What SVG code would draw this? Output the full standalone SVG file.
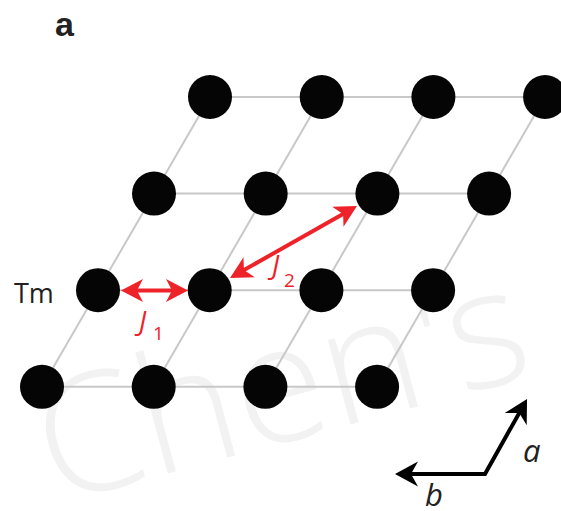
<svg xmlns="http://www.w3.org/2000/svg" width="561" height="511" viewBox="0 0 561 511">
  <style>
    .grid line { stroke: #c8c8c8; stroke-width: 2; }
    .atom { fill: #050505; }
    .red { stroke: #ee2229; stroke-width: 4; fill: none; }
    .axis { stroke: #000; stroke-width: 4; fill: none; stroke-linejoin: miter; }
    .lbl { font-family: "Open Sans", "Liberation Sans", sans-serif; }
    .jlbl { font-family: "Open Sans", "Liberation Sans", sans-serif; font-style: italic; fill: #ee2229; }
    .jsub { font-family: "Open Sans", "Liberation Sans", sans-serif; fill: #ee2229; }
    .ax { font-family: "Open Sans", "Liberation Sans", sans-serif; font-style: italic; fill: #222; font-size: 31px; }
  </style>
  <defs>
    <marker id="redHead" markerUnits="userSpaceOnUse" markerWidth="24" markerHeight="24" viewBox="0 0 24 24" refX="8" refY="12" orient="auto-start-reverse">
      <path d="M22,12 L0,0.5 L6,12 L0,23.5 Z" fill="#ee2229"/>
    </marker>
    <marker id="blackHead" markerUnits="userSpaceOnUse" markerWidth="26" markerHeight="26" viewBox="0 0 26 26" refX="9" refY="13" orient="auto-start-reverse">
      <path d="M23,13 L0,0.5 L7,13 L0,25.5 Z" fill="#000"/>
    </marker>
  </defs>
  <rect width="561" height="511" fill="#fff"/>

  <!-- watermark -->
  <text x="54" y="504" transform="rotate(-15 54 504)" font-family="'Open Sans', 'Liberation Sans', sans-serif" font-weight="300" font-size="165" textLength="500" lengthAdjust="spacingAndGlyphs" fill="#f2f2f2">Chen's</text>

  <text x="55" y="36" font-family="'Liberation Sans', Arial, sans-serif" font-weight="bold" font-size="34" fill="#222">a</text>

  <g id="connectors" class="grid">
    <line x1="210" y1="97" x2="545.1" y2="97"/>
    <line x1="154" y1="193.6" x2="489.1" y2="193.6"/>
    <line x1="98" y1="290.2" x2="433.1" y2="290.2"/>
    <line x1="42" y1="386.8" x2="377.1" y2="386.8"/>
    <line x1="42" y1="386.8" x2="210" y2="97"/>
    <line x1="153.7" y1="386.8" x2="321.7" y2="97"/>
    <line x1="265.4" y1="386.8" x2="433.4" y2="97"/>
    <line x1="377.1" y1="386.8" x2="545.1" y2="97"/>
  </g>

  <g id="atoms">
    <g id="n00"><circle class="atom" cx="210" cy="97" r="22"/></g>
    <g id="n01"><circle class="atom" cx="321.7" cy="97" r="22"/></g>
    <g id="n02"><circle class="atom" cx="433.4" cy="97" r="22"/></g>
    <g id="n03"><circle class="atom" cx="545.1" cy="97" r="22"/></g>
    <g id="n10"><circle class="atom" cx="154" cy="193.6" r="22"/></g>
    <g id="n11"><circle class="atom" cx="265.7" cy="193.6" r="22"/></g>
    <g id="n12"><circle class="atom" cx="377.4" cy="193.6" r="22"/></g>
    <g id="n13"><circle class="atom" cx="489.1" cy="193.6" r="22"/></g>
    <g id="n20"><circle class="atom" cx="98" cy="290.2" r="22"/></g>
    <g id="n21"><circle class="atom" cx="209.7" cy="290.2" r="22"/></g>
    <g id="n22"><circle class="atom" cx="321.4" cy="290.2" r="22"/></g>
    <g id="n23"><circle class="atom" cx="433.1" cy="290.2" r="22"/></g>
    <g id="n30"><circle class="atom" cx="42" cy="386.8" r="22"/></g>
    <g id="n31"><circle class="atom" cx="153.7" cy="386.8" r="22"/></g>
    <g id="n32"><circle class="atom" cx="265.4" cy="386.8" r="22"/></g>
    <g id="n33"><circle class="atom" cx="377.1" cy="386.8" r="22"/></g>
  </g>

  <text class="lbl" x="14" y="303" font-size="27" fill="#231f20">Tm</text>

  <g id="exchange">
    <line class="red" x1="135" y1="290.5" x2="174" y2="290.5" marker-start="url(#redHead)" marker-end="url(#redHead)"/>
    <line class="red" x1="242.2" y1="271.1" x2="344.8" y2="212.9" marker-start="url(#redHead)" marker-end="url(#redHead)"/>
    <text class="jlbl" x="139" y="331" font-size="27">J</text>
    <text class="jsub" x="153" y="340" font-size="19">1</text>
    <text class="jlbl" x="272" y="275" font-size="27">J</text>
    <text class="jsub" x="284" y="287" font-size="19">2</text>
  </g>

  <g id="axes">
    <polyline class="axis" points="409,474 485,474 520.2,411.2" marker-start="url(#blackHead)" marker-end="url(#blackHead)"/>
    <text class="ax" x="523" y="462">a</text>
    <text class="ax" x="425" y="506">b</text>
  </g>
</svg>
